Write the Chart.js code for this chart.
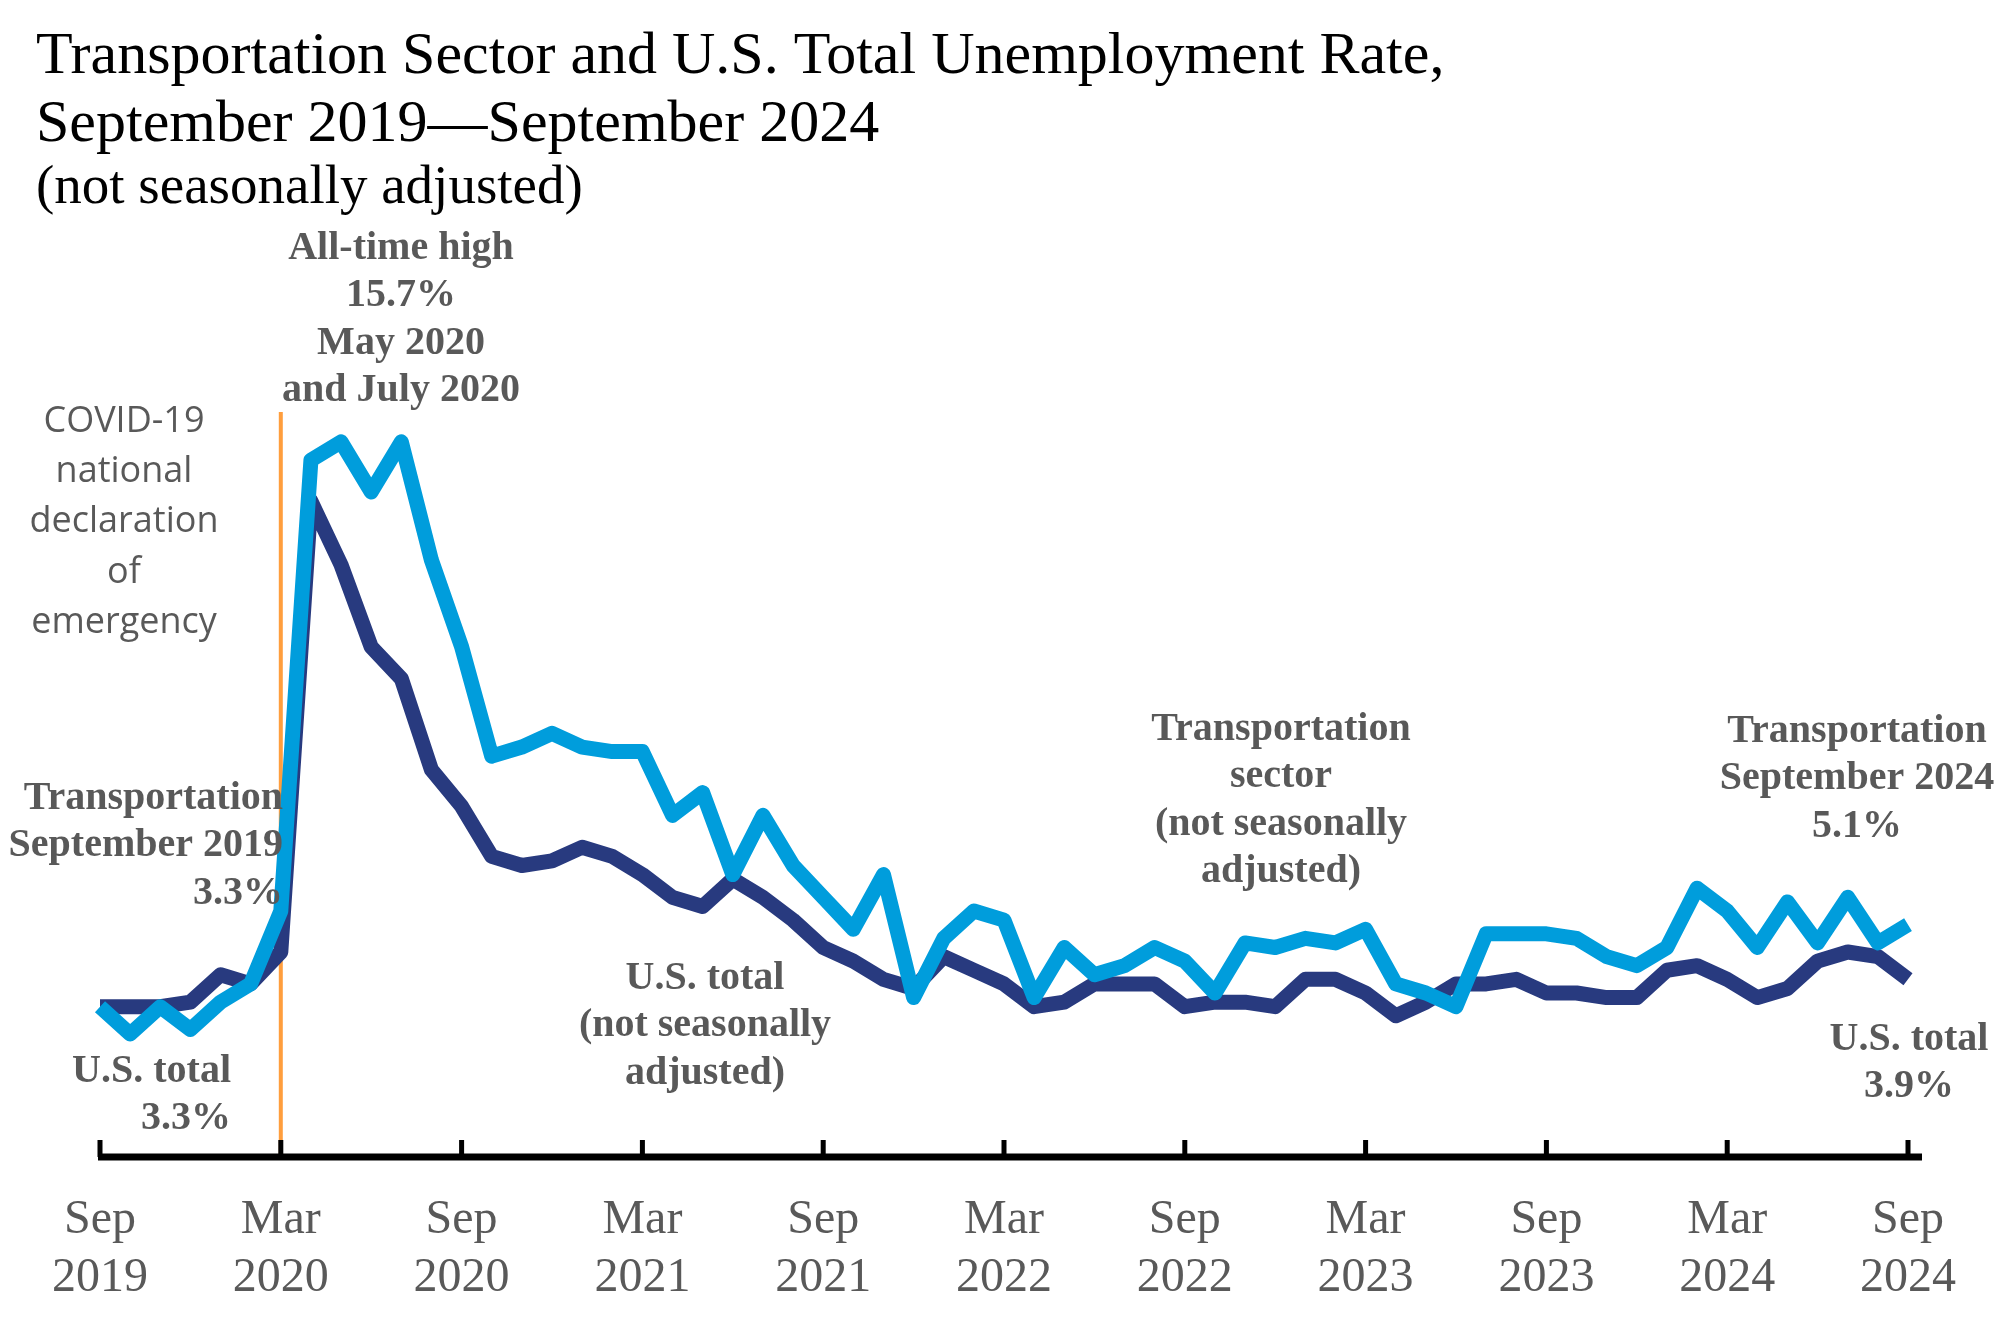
<!DOCTYPE html>
<html>
<head>
<meta charset="utf-8">
<script src="https://cdn.jsdelivr.net/npm/chart.js@4"></script>
<style>
  html, body { margin: 0; padding: 0; background: #ffffff; }
  canvas { display: block; }
</style>
</head>
<body>
<canvas id="c" width="2014" height="1321" style="width:2014px;height:1321px"></canvas>
<script>
// ---------- DATA ----------
const months = [
  'Sep 2019','Oct 2019','Nov 2019','Dec 2019',
  'Jan 2020','Feb 2020','Mar 2020','Apr 2020','May 2020','Jun 2020','Jul 2020','Aug 2020','Sep 2020','Oct 2020','Nov 2020','Dec 2020',
  'Jan 2021','Feb 2021','Mar 2021','Apr 2021','May 2021','Jun 2021','Jul 2021','Aug 2021','Sep 2021','Oct 2021','Nov 2021','Dec 2021',
  'Jan 2022','Feb 2022','Mar 2022','Apr 2022','May 2022','Jun 2022','Jul 2022','Aug 2022','Sep 2022','Oct 2022','Nov 2022','Dec 2022',
  'Jan 2023','Feb 2023','Mar 2023','Apr 2023','May 2023','Jun 2023','Jul 2023','Aug 2023','Sep 2023','Oct 2023','Nov 2023','Dec 2023',
  'Jan 2024','Feb 2024','Mar 2024','Apr 2024','May 2024','Jun 2024','Jul 2024','Aug 2024','Sep 2024'
];
const transportation = [
  3.3, 2.7, 3.3, 2.8,
  3.4, 3.8, 5.4, 15.3, 15.7, 14.6, 15.7, 13.1, 11.2, 8.8, 9.0, 9.3,
  9.0, 8.9, 8.9, 7.5, 8.0, 6.2, 7.5, 6.4, 5.7, 5.0, 6.2, 3.5,
  4.8, 5.4, 5.2, 3.5, 4.6, 4.0, 4.2, 4.6, 4.3, 3.6, 4.7, 4.6,
  4.8, 4.7, 5.0, 3.8, 3.6, 3.3, 4.9, 4.9, 4.9, 4.8, 4.4, 4.2,
  4.6, 5.9, 5.4, 4.6, 5.6, 4.7, 5.7, 4.7, 5.1
];
const usTotal = [
  3.3, 3.3, 3.3, 3.4,
  4.0, 3.8, 4.5, 14.4, 13.0, 11.2, 10.5, 8.5, 7.7, 6.6, 6.4, 6.5,
  6.8, 6.6, 6.2, 5.7, 5.5, 6.1, 5.7, 5.2, 4.6, 4.3, 3.9, 3.7,
  4.4, 4.1, 3.8, 3.3, 3.4, 3.8, 3.8, 3.8, 3.3, 3.4, 3.4, 3.3,
  3.9, 3.9, 3.6, 3.1, 3.4, 3.8, 3.8, 3.9, 3.6, 3.6, 3.5, 3.5,
  4.1, 4.2, 3.9, 3.5, 3.7, 4.3, 4.5, 4.4, 3.9
];
const tickLabels = ['Sep 2019','Mar 2020','Sep 2020','Mar 2021','Sep 2021','Mar 2022','Sep 2022','Mar 2023','Sep 2023','Mar 2024','Sep 2024'];
const covidMonth = 'Mar 2020';

const titleLines = [
  'Transportation Sector and U.S. Total Unemployment Rate,',
  'September 2019\u2014September 2024',
  '(not seasonally adjusted)'
];
const covidLines = ['COVID-19','national','declaration','of','emergency'];
const notes = [
  { lines: ['All-time high','15.7%','May 2020','and July 2020'], x: 401, y: 259, align: 'center' },
  { lines: ['Transportation','September 2019','3.3%'], x: 283, y: 809, align: 'right' },
  { lines: ['U.S. total','3.3%'], x: 231, y: 1082, align: 'right' },
  { lines: ['U.S. total','(not seasonally','adjusted)'], x: 705, y: 989, align: 'center' },
  { lines: ['Transportation','sector','(not seasonally','adjusted)'], x: 1281, y: 740, align: 'center' },
  { lines: ['Transportation','September 2024','5.1%'], x: 1857, y: 742, align: 'center' },
  { lines: ['U.S. total','3.9%'], x: 1909, y: 1050, align: 'center' }
];

// ---------- STYLE ----------
const GRAY = '#595959';
const LIGHT = '#009DDC';
const NAVY = '#283A7F';
const ORANGE = '#FF9E3D';

const annoPlugin = {
  id: 'anno',
  beforeDatasetsDraw(chart) {
    const ctx = chart.ctx;
    const xs = chart.scales.x;
    const x = xs.getPixelForValue(months.indexOf(covidMonth));
    ctx.save();
    ctx.strokeStyle = ORANGE;
    ctx.lineWidth = 4;
    ctx.beginPath();
    ctx.moveTo(x, 412);
    ctx.lineTo(x, chart.chartArea.bottom);
    ctx.stroke();
    ctx.restore();
  },
  afterDraw(chart) {
    const ctx = chart.ctx;
    const xs = chart.scales.x;
    const bottom = chart.chartArea.bottom;
    ctx.save();
    // axis line
    const x0 = xs.getPixelForValue(0);
    const x1 = xs.getPixelForValue(months.length - 1);
    ctx.fillStyle = '#000';
    ctx.fillRect(x0 - 2, bottom - 3.5, (x1 + 14) - (x0 - 2), 7);
    // ticks (pointing up)
    tickLabels.forEach(l => {
      const tx = xs.getPixelForValue(months.indexOf(l));
      ctx.fillRect(tx - 2.5, bottom - 17, 5, 17);
    });
    // title
    ctx.fillStyle = '#000';
    ctx.textAlign = 'left';
    ctx.textBaseline = 'alphabetic';
    ctx.font = '60px "Liberation Serif"';
    ctx.fillText(titleLines[0], 36, 73);
    ctx.fillText(titleLines[1], 36, 141);
    ctx.font = '55px "Liberation Serif"';
    ctx.fillText(titleLines[2], 36, 203);
    // covid note
    ctx.fillStyle = GRAY;
    ctx.textAlign = 'center';
    ctx.font = '36px "Open Sans"';
    covidLines.forEach((t, i) => ctx.fillText(t, 124, 432 + i * 50.2));
    // bold notes
    ctx.font = 'bold 40px "Liberation Serif"';
    notes.forEach(n => {
      ctx.textAlign = n.align;
      n.lines.forEach((t, i) => ctx.fillText(t, n.x, n.y + i * 47.3));
    });
    ctx.restore();
  }
};

new Chart(document.getElementById('c'), {
  type: 'line',
  data: {
    labels: months,
    datasets: [
      { label: 'Transportation sector', data: transportation, borderColor: LIGHT, backgroundColor: LIGHT,
        borderWidth: 15, pointRadius: 0, tension: 0, borderJoinStyle: 'round', borderCapStyle: 'butt', clip: false },
      { label: 'U.S. total', data: usTotal, borderColor: NAVY, backgroundColor: NAVY,
        borderWidth: 15, pointRadius: 0, tension: 0, borderJoinStyle: 'round', borderCapStyle: 'butt', clip: false }
    ]
  },
  options: {
    responsive: false,
    devicePixelRatio: 1,
    animation: false,
    layout: { padding: { left: 100, right: 106, top: 246, bottom: 0 } },
    plugins: { legend: { display: false }, tooltip: { enabled: false }, title: { display: false } },
    scales: {
      x: {
        type: 'category',
        offset: false,
        grid: { display: false, drawTicks: false },
        border: { display: false },
        ticks: {
          autoSkip: false, maxRotation: 0, minRotation: 0, padding: 35,
          color: GRAY,
          font: { family: 'Liberation Serif', size: 48, lineHeight: 1.2 },
          callback: function(v, i) {
            const l = months[i];
            return tickLabels.includes(l) ? l.split(' ') : '';
          }
        },
        afterFit: function(s) { s.height = 164; }
      },
      y: { display: false, min: 0, max: 20 }
    }
  },
  plugins: [annoPlugin]
});
</script>
</body>
</html>
